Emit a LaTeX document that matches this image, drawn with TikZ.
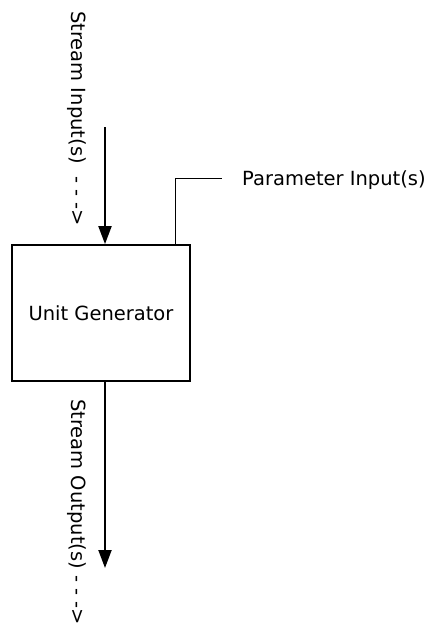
\documentclass[tikz,border=0pt]{standalone}
\usepackage{fontspec}
\setmainfont{DejaVu Sans}
\usetikzlibrary{arrows.meta}
\begin{document}
\begin{tikzpicture}[x=1pt,y=-1pt,
  lbl/.style={inner sep=0pt, font=\fontsize{19.5}{22}\selectfont},
  unitbox/.style={draw, line width=1.8pt, minimum width=178pt, minimum height=136pt, inner sep=0pt},
  flow/.style={line width=2pt, -{Triangle[length=18pt,width=13pt]}},
  thin/.style={line width=1pt}]
\useasboundingbox (0,0) rectangle (429,624);
\node[unitbox, lbl] (ug) at (101,313) {Unit Generator};
\coordinate (inStart) at (105,127);
\coordinate (outEnd) at (105,568);
\draw[flow] (inStart) -- (ug.north -| inStart);
\draw[flow] (ug.south -| outEnd) -- (outEnd);
\node[lbl, rotate=-90, anchor=west] (inlbl) at (77,11) {Stream Input(s)~~- - -{}>};
\node[lbl, rotate=-90, anchor=west] (outlbl) at (77,399) {Stream Output(s)~- - -{}>};
\node[lbl, anchor=base west] (par) at (242,185) {Parameter Input(s)};
\coordinate (pc) at (175,178);
\coordinate (pe) at (222,178);
\draw[thin] (ug.north -| pc) -- (pc) -- (pe);
\end{tikzpicture}
\end{document}
